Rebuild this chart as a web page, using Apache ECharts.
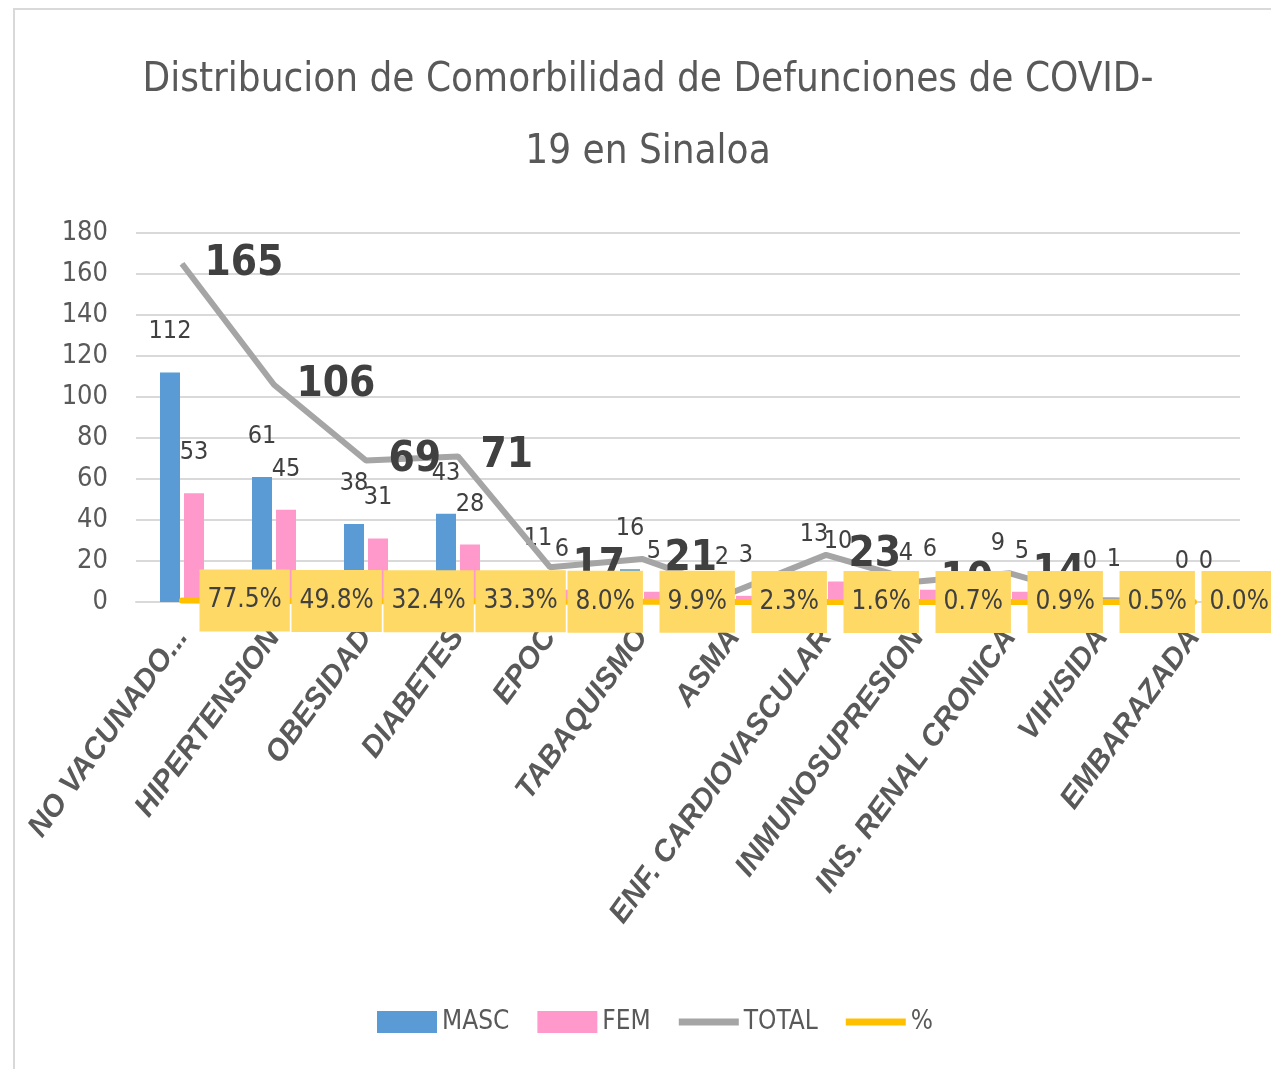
<!DOCTYPE html>
<html><head><meta charset="utf-8">
<script src="https://cdn.jsdelivr.net/npm/echarts@6/dist/echarts.min.js"></script>
<style>html,body{margin:0;padding:0;background:#fff}#c{width:1271px;height:1069px}</style>
</head><body><div id="c"></div>
<script>
const categories = ['NO VACUNADO...', 'HIPERTENSION', 'OBESIDAD', 'DIABETES', 'EPOC', 'TABAQUISMO', 'ASMA', 'ENF. CARDIOVASCULAR', 'INMUNOSUPRESION', 'INS. RENAL CRONICA', 'VIH/SIDA', 'EMBARAZADA'];
const masc = [112, 61, 38, 43, 11, 16, 2, 13, 4, 9, 0, 0];
const fem = [53, 45, 31, 28, 6, 5, 3, 10, 6, 5, 1, 0];
const total = [165, 106, 69, 71, 17, 21, 5, 23, 10, 14, 1, 0];
const pct = [0.775, 0.498, 0.324, 0.333, 0.080, 0.099, 0.023, 0.016, 0.007, 0.009, 0.005, 0.000];
const seriesNames = ['MASC', 'FEM', 'TOTAL', '%'];
const titleText = 'Distribucion de Comorbilidad de Defunciones de COVID-\n19 en Sinaloa';

const FONT = '"Noto Sans Condensed","Noto Sans SemiCondensed","DejaVu Sans Condensed",sans-serif';
const LINE_ICON = 'path://M0,0L60,0L60,7L0,7Z';
const lastIdx = pct.length - 1;
const chart = echarts.init(document.getElementById('c'), null, {renderer: 'canvas'});
const option = {
  backgroundColor: '#fff',
  animation: false,
  textStyle: {fontFamily: FONT},
  graphic: [{type: 'rect', silent: true, z: -1, shape: {x: 14, y: 9, width: 1300, height: 1100}, style: {fill: 'none', stroke: '#D9D9D9', lineWidth: 2}}],
  title: {
    text: titleText, left: 643, top: 40, textAlign: 'center',
    textStyle: {fontFamily: FONT, fontSize: 40, fontWeight: 'normal', color: '#595959', lineHeight: 72}
  },
  legend: {
    left: 372, top: 1004, itemWidth: 60, itemHeight: 22, itemGap: 28,
    itemStyle: {borderWidth: 0},
    textStyle: {fontFamily: FONT, fontSize: 26, color: '#595959'},
    data: [
      {name: seriesNames[0], icon: 'rect'},
      {name: seriesNames[1], icon: 'rect'},
      {name: seriesNames[2], icon: LINE_ICON},
      {name: seriesNames[3], icon: LINE_ICON}
    ]
  },
  grid: {left: 136, right: 31, top: 233, bottom: 467, containLabel: false, outerBoundsMode: 'none'},
  xAxis: {
    type: 'category', data: categories,
    axisLine: {lineStyle: {color: '#D9D9D9', width: 2}},
    axisTick: {show: false},
    axisLabel: {rotate: 54, margin: 30, interval: 0, color: '#595959', fontFamily: '"Liberation Sans", Arial, sans-serif', fontSize: 30, fontWeight: 'bold', fontStyle: 'italic'}
  },
  yAxis: {
    type: 'value', min: 0, max: 180, interval: 20,
    axisLine: {show: false}, axisTick: {show: false},
    splitLine: {lineStyle: {color: '#D9D9D9', width: 2}},
    axisLabel: {margin: 28, color: '#595959', fontSize: 27, fontFamily: FONT}
  },
  series: [
    {
      name: seriesNames[0], type: 'bar', data: masc, barWidth: 20, barGap: '20%', z: 2,
      itemStyle: {color: '#5B9BD5'},
      label: {show: true, position: 'top', distance: 28, color: '#404040', fontSize: 25, fontFamily: FONT}
    },
    {
      name: seriesNames[1], type: 'bar', data: fem, barWidth: 20, barGap: '20%', z: 2,
      itemStyle: {color: '#FF99CC'},
      label: {show: true, position: 'top', distance: 28, color: '#404040', fontSize: 25, fontFamily: FONT}
    },
    {
      name: seriesNames[2], type: 'line', data: total, symbol: 'circle', symbolSize: 1, z: 3,
      itemStyle: {color: '#A5A5A5'},
      lineStyle: {color: '#A5A5A5', width: 6},
      label: {show: true, position: 'right', distance: 22, color: '#404040', fontSize: 42, fontWeight: 'bold', fontFamily: FONT}
    },
    {
      name: seriesNames[3], type: 'line', z: 4, symbol: 'circle', symbolSize: 1,
      data: pct.map((v, i) => i === lastIdx ? {value: v, label: {offset: [-10, 0]}} : v),
      itemStyle: {color: '#FFC000'},
      lineStyle: {color: '#FFC000', width: 6, cap: 'round'},
      label: {
        show: true, position: 'right', distance: 17,
        formatter: p => (p.value * 100).toFixed(1) + '%',
        backgroundColor: '#FFD966', padding: [17, 8], lineHeight: 28,
        color: '#404040', fontSize: 26, fontFamily: FONT
      }
    }
  ]
};
chart.setOption(option);
</script>
</body></html>
